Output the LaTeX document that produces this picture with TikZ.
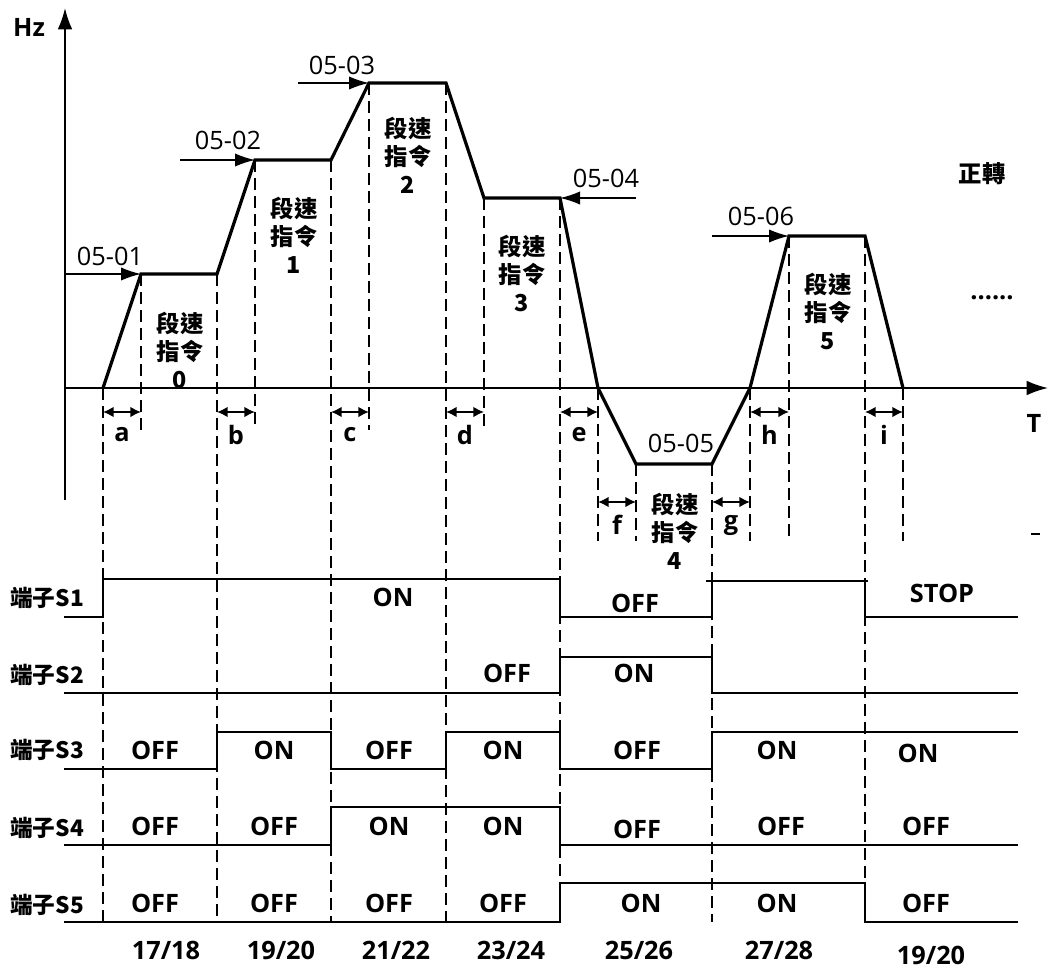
\documentclass[tikz,border=0pt]{standalone}
\usepackage{fontspec}
\setmainfont{Open Sans}
\newfontfamily\cjk{Noto Sans CJK TC}
\usetikzlibrary{arrows.meta}
\begin{document}
\begin{tikzpicture}[x=0.75pt,y=-0.75pt,
  prof/.style={line width=2.4pt, line join=miter},
  sig/.style={line width=2pt},
  dsh/.style={line width=1.1pt, dash pattern=on 9pt off 4.5pt},
  axisline/.style={line width=1.4pt, -{Latex[length=16pt,width=11pt]}},
  lvl/.style={line width=1.2pt, -{Latex[length=15pt,width=10pt]}},
  dbl/.style={line width=1.3pt, {Latex[length=8pt,width=8pt]}-{Latex[length=8pt,width=8pt]}},
  lab/.style={font=\fontsize{19}{21}\selectfont\bfseries, inner sep=0pt, align=center},
  cmd/.style={font=\fontsize{17.5}{21}\cjk\bfseries, inner sep=0pt, align=center},
  term/.style={font=\fontsize{17}{21}\cjk\bfseries, inner sep=0pt, anchor=west},
  num/.style={font=\fontsize{19}{21}\selectfont, inner sep=0pt},
]
\useasboundingbox (0,0) rectangle (1049,974);

% axes
\coordinate (yb) at (65,500); \coordinate (yt) at (65,8);
\coordinate (xl) at (65,388); \coordinate (xr) at (1048,388);
\draw[axisline] (yb) -- (yt);
\draw[axisline] (xl) -- (xr);
\node[lab] (hz) at (29,27) {Hz};
\node[lab] (tt) at (1034,423) {T};

% dashed verticals (full length)
\foreach \x/\y in {103/388,217/274,331/160,446/83,560/198,712/464,865/236}
  \draw[dsh] (\x,\y) -- (\x,922);
% short dashed (a-d)
\foreach \x/\y in {141/274,255/160,369/83,484/198}
  \draw[dsh] (\x,\y) -- (\x,430);
% short dashed (e-i)
\foreach \x/\y in {598/388,636/464,750/388,789/236,903/388}
  \draw[dsh] (\x,\y) -- (\x,541);

% speed profile
\draw[prof] (103,388) -- (141,274) -- (217,274) -- (255,160) -- (331,160) -- (369,83)
  -- (446,83) -- (484,198) -- (560,198) -- (598,388) -- (636,464) -- (712,464)
  -- (747,394) -- (750,388) -- (789,236) -- (865,236) -- (903,388);

% level arrows
\draw[lvl] (65,274) -- (141,274);
\node[num] (l1) at (110,256) {05-01};
\draw[lvl] (180,160) -- (255,160);
\node[num] (l2) at (228,140) {05-02};
\draw[lvl] (298,83) -- (369,83);
\node[num] (l3) at (342,65) {05-03};
\draw[lvl] (636,198) -- (560,198);
\node[num] (l4) at (606,178) {05-04};
\node[num] (l5) at (681,443) {05-05};
\draw[lvl] (712,236) -- (789,236);
\node[num] (l6) at (761,216) {05-06};

% interval arrows and letters
\foreach \a/\b/\y/\t in {103/141/412/a,217/255/412/b,331/369/412/c,446/484/412/d,560/598/412/e,750/789/412/h,865/903/412/i,598/636/502/f,712/750/502/g}{
  \draw[dbl] (\a,\y) -- (\b,\y);
  \node[lab] at ({(\a+\b)/2},{\y+23}) {\t};
}

% speed command labels
\node[cmd] (c0) at (180,350) {段速\\指令\\0};
\node[cmd] (c1) at (294,235) {段速\\指令\\1};
\node[cmd] (c2) at (408,155) {段速\\指令\\2};
\node[cmd] (c3) at (522,273) {段速\\指令\\3};
\node[cmd] (c4) at (675,531) {段速\\指令\\4};
\node[cmd] (c5) at (828,311) {段速\\指令\\5};
\node[cmd] (fwd) at (982,174) {正轉};
\node[lab] (dots) at (992,298) {......};
\draw[line width=1pt] (1031,534) -- (1040,534);

% terminal labels
\node[term] (s1) at (10,598) {端子S1};
\node[term] (s2) at (10,675) {端子S2};
\node[term] (s3) at (10,750) {端子S3};
\node[term] (s4) at (10,828) {端子S4};
\node[term] (s5) at (10,905) {端子S5};

% signals
\draw[sig] (64,617) -- (103,617) -- (103,579) -- (560,579) -- (560,617) -- (712,617) -- (712,581);
\draw[sig] (706,581) -- (868,581);
\draw[sig] (865,581) -- (865,617) -- (1018,617);
\draw[sig] (64,693) -- (560,693) -- (560,657) -- (712,657) -- (712,693) -- (1018,693);
\draw[sig] (64,769) -- (217,769) -- (217,732) -- (331,732) -- (331,769) -- (446,769) -- (446,732)
  -- (560,732) -- (560,769) -- (712,769) -- (712,732) -- (1018,732);
\draw[sig] (64,845) -- (331,845) -- (331,807) -- (560,807) -- (560,845) -- (1018,845);
\draw[sig] (64,922) -- (560,922) -- (560,883) -- (865,883) -- (865,922) -- (1018,922);

% state labels
\node[lab] at (393,597) {ON};
\node[lab] at (635,603) {OFF};
\node[lab] at (942,593) {STOP};
\node[lab] at (507,673) {OFF};
\node[lab] at (634,673) {ON};
\foreach \x/\t in {155/OFF,274/ON,389/OFF,503/ON,637/OFF,777/ON}
  \node[lab] at (\x,750) {\t};
\node[lab] at (918,753) {ON};
\foreach \x/\t in {155/OFF,274/OFF,389/ON,503/ON,781/OFF,926/OFF}
  \node[lab] at (\x,826) {\t};
\node[lab] at (637,829) {OFF};
\foreach \x/\t in {155/OFF,274/OFF,389/OFF,503/OFF,641/ON,777/ON,926/OFF}
  \node[lab] at (\x,903) {\t};

% bottom codes
\foreach \x/\t in {166/17\slash 18,281/19\slash 20,396/21\slash 22,511/23\slash 24,639/25\slash 26,779/27\slash 28}
  \node[lab] at (\x,950) {\t};
\node[lab] at (931,955) {19/20};
\end{tikzpicture}
\end{document}
